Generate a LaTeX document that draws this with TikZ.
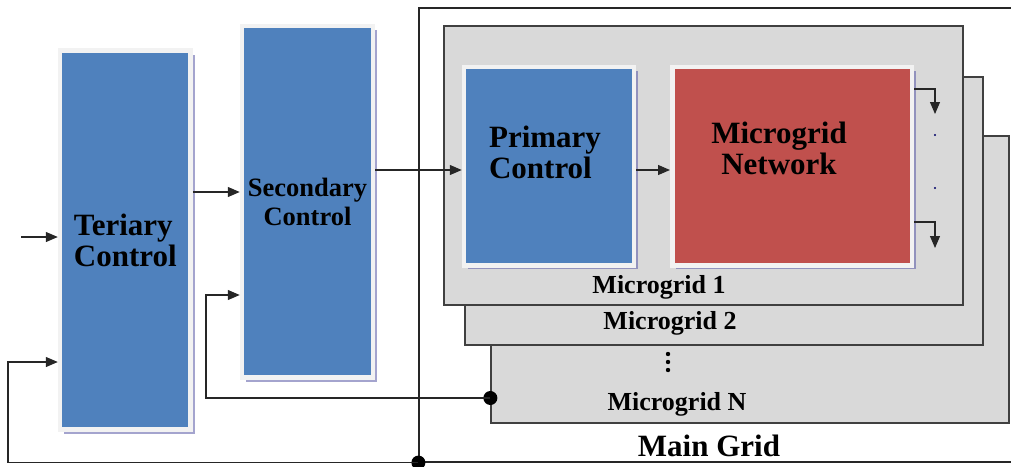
\documentclass[tikz,border=0pt]{standalone}
\usepackage{fontspec}
\setmainfont{Liberation Serif}
\usetikzlibrary{arrows.meta,shadows}

\definecolor{ctrlblue}{HTML}{4F81BD}
\definecolor{netred}{HTML}{C0504D}
\definecolor{mggray}{HTML}{D9D9D9}
\definecolor{framewhite}{HTML}{F2F2F2}

\tikzset{
  ctrl/.style={draw=framewhite, line width=4.5pt,
    drop shadow={shadow xshift=4pt, shadow yshift=-4pt, fill=gray!70!blue, opacity=0.55}},
  mgbox/.style={fill=mggray, draw=black!75, line width=1.3pt},
  wire/.style={draw=black!85, line width=1.2pt},
  arr/.style={wire, -{Triangle[length=12pt,width=10pt]}},
  jdot/.style={circle, fill=black, inner sep=0pt, minimum size=14pt},
  bigtxt/.style={font=\fontsize{31}{31}\selectfont\bfseries, text=black},
  mgtxt/.style={font=\fontsize{26}{26}\selectfont\bfseries, text=black}
}

\begin{document}
\begin{tikzpicture}[x=1pt,y=-1pt]
    \useasboundingbox (0,0) rectangle (1011,466);

    % main grid (right side runs off the page)
    \node[wire, minimum width=611pt, minimum height=454pt, inner sep=0pt] (grid) at (724.5,235) {};
    \node[font=\fontsize{31}{31}\selectfont\bfseries] (grid-t) at (709,446) {Main Grid};

    % tertiary and secondary control
    \node[ctrl, fill=ctrlblue, bigtxt, align=left, minimum width=130.5pt, minimum height=379pt] (ter) at (125.3,240) {Teriary\\Control};
    \node[ctrl, fill=ctrlblue, font=\fontsize{26.5}{29}\selectfont\bfseries, align=center,
          minimum width=131pt, minimum height=351.5pt] (sec) at (307.5,201.8) {Secondary\\Control};

    % stacked microgrids
    \node[mgbox, minimum width=518pt, minimum height=287pt] (mgN) at (750,279.5) {};
    \node[mgbox, minimum width=518pt, minimum height=268pt] (mg2) at (724,211) {};
    \node[mgbox, minimum width=519pt, minimum height=279pt] (mg1) at (703.5,165.5) {};
    \node[mgtxt] (mg1-t) at (659,287) {Microgrid 1};
    \node[mgtxt] (mg2-t) at (670,323) {Microgrid 2};
    \node[mgtxt] (mgN-t) at (677,404) {Microgrid N};
    \foreach \yy in {354,362,370}
        \fill (668,\yy) circle (2.2pt);

    % inside microgrid 1
    \node[ctrl, fill=ctrlblue, minimum width=170pt, minimum height=198.5pt] (prim) at (549,166) {};
    \node[bigtxt, align=left] (prim-t) at (545,152) {Primary\\Control};
    \node[ctrl, fill=netred, minimum width=239.5pt, minimum height=198.5pt] (net) at (792,166) {};
    \node[bigtxt, align=center] (net-t) at (779,148) {Microgrid\\Network};

    % signal flow
    \coordinate (in) at (21,237);
    \draw[arr] (in) -- (in -| ter.west);
    \draw[arr] (ter.east |- 0,192) -- (sec.west |- 0,192);
    \draw[arr] (sec.east |- 0,170) -- (prim.west |- 0,170);
    \draw[arr] (prim.east |- 0,170) -- (net.west |- 0,170);

    % network outputs
    \coordinate (out1) at (935,114);
    \coordinate (out2) at (935,248);
    \draw[arr] (net.east |- 0,89) -| (out1);
    \draw[arr] (net.east |- 0,222) -| (out2);
    \fill[black!60!blue] (935,135) circle (1.2pt) (935,188) circle (1.2pt);

    % feedback from microgrids
    \node[jdot] (fbdot) at (mgN.west |- 0,398) {};
    \coordinate (fbc) at (206,295);
    \draw[arr] (fbdot.center) -| (fbc) -- (fbc -| sec.west);

    % feedback from main grid
    \node[jdot] (gdot) at (grid.south west) {};
    \coordinate (gbc) at (8,362);
    \draw[arr] (gdot.center) -| (gbc) -- (gbc -| ter.west);

\end{tikzpicture}
\end{document}
